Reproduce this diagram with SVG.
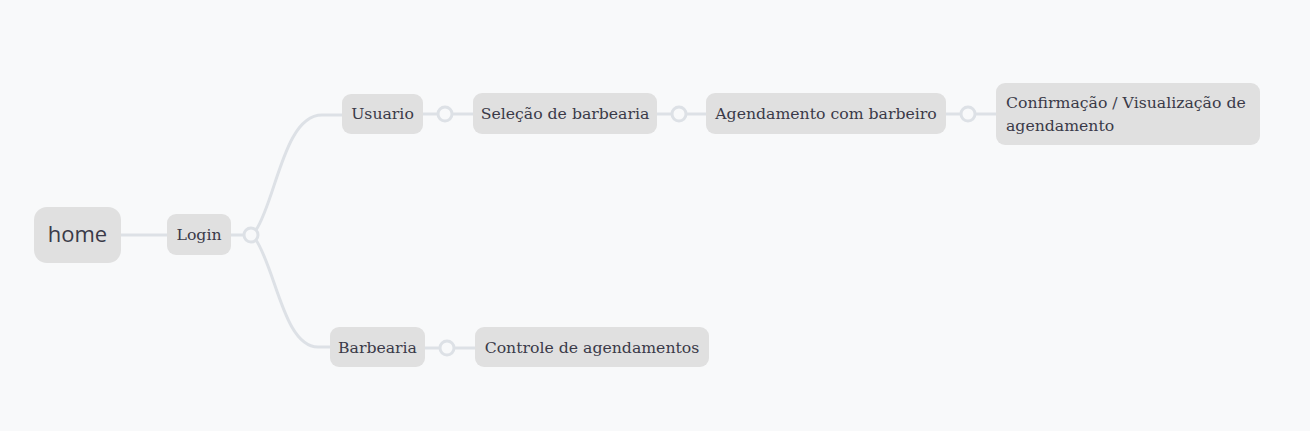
<svg xmlns="http://www.w3.org/2000/svg" width="1310" height="431" viewBox="0 0 1310 431">
<style>
.bg{fill:#f8f9fa}
.node{fill:#e0e0e0}
.t{font-family:"DejaVu Serif","Liberation Serif",serif;font-size:15.7px;fill:#3a3a48}
.line{fill:none;stroke:#dde1e6;stroke-width:3}
.dot{fill:#f8f9fa;stroke:#dde1e6;stroke-width:3}
</style>
<rect class="bg" x="0" y="0" width="1310" height="431"/>
<g id="connectors">
<line class="line" x1="121" y1="235" x2="167" y2="235"/>
<line class="line" x1="231" y1="235" x2="244" y2="235"/>
<path class="line" d="M256,230 C276,200 284,115 322,115 L342,115"/>
<path class="line" d="M256,240 C276,270 284,347 318,347 L330,347"/>
<circle class="dot" cx="251" cy="235" r="7"/>
<line class="line" x1="423" y1="114" x2="473" y2="114"/>
<circle class="dot" cx="445" cy="114" r="7"/>
<line class="line" x1="657" y1="114" x2="706" y2="114"/>
<circle class="dot" cx="679" cy="114" r="7"/>
<line class="line" x1="946" y1="114" x2="996" y2="114"/>
<circle class="dot" cx="968" cy="114" r="7"/>
<line class="line" x1="425" y1="348" x2="475" y2="348"/>
<circle class="dot" cx="447" cy="348" r="7"/>
</g>
<g id="home">
<rect class="node" x="34" y="207" width="87" height="56" rx="13"/>
<text x="77.5" y="242" text-anchor="middle" style="font-family:'Open Sans','Noto Sans',sans-serif;font-size:22px;fill:#3a3a48">home</text>
</g>
<g id="login">
<rect class="node" x="167" y="214" width="64" height="41" rx="9"/>
<text class="t" x="199" y="240" text-anchor="middle">Login</text>
</g>
<g id="usuario">
<rect class="node" x="342" y="94" width="81" height="40" rx="9"/>
<text class="t" x="382.5" y="119" text-anchor="middle">Usuario</text>
</g>
<g id="selecao">
<rect class="node" x="473" y="93" width="184" height="41" rx="9"/>
<text class="t" x="565" y="119" text-anchor="middle">Seleção de barbearia</text>
</g>
<g id="agendamento">
<rect class="node" x="706" y="93" width="240" height="41" rx="9"/>
<text class="t" x="826" y="119" text-anchor="middle">Agendamento com barbeiro</text>
</g>
<g id="confirmacao">
<rect class="node" x="996" y="83" width="264" height="62" rx="9"/>
<text class="t" x="1006" y="108">Confirmação / Visualização de</text>
<text class="t" x="1006" y="131">agendamento</text>
</g>
<g id="barbearia">
<rect class="node" x="330" y="327" width="95" height="40" rx="9"/>
<text class="t" x="377.5" y="353" text-anchor="middle">Barbearia</text>
</g>
<g id="controle">
<rect class="node" x="475" y="327" width="234" height="40" rx="9"/>
<text class="t" x="592" y="353" text-anchor="middle">Controle de agendamentos</text>
</g>
</svg>
